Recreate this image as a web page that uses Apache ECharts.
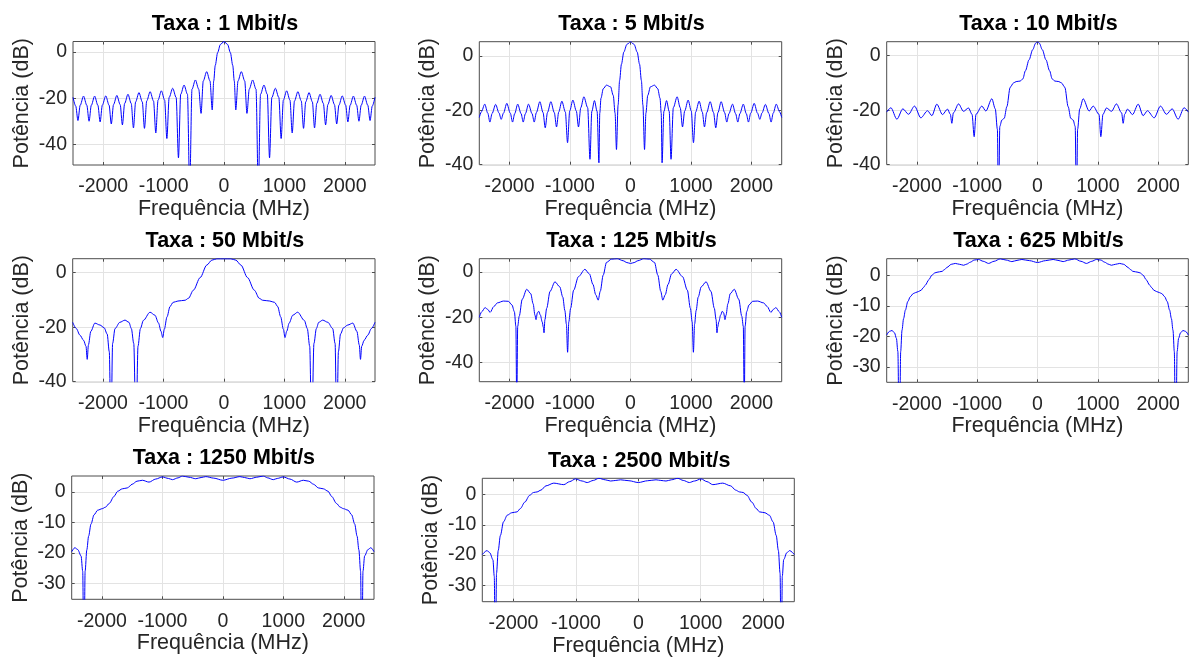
<!DOCTYPE html>
<html>
<head>
<meta charset="utf-8">
<title>Espectro de potência</title>
<script src="https://cdn.jsdelivr.net/npm/echarts@6/dist/echarts.min.js"></script>
<style>
  html, body { margin: 0; padding: 0; background: #ffffff; }
  #chart { width: 1192px; height: 661px; }
</style>
</head>
<body>
<div id="chart"></div>
<script>
// Bit rates shown in each panel title (Mbit/s)
const rates = ['1', '5', '10', '50', '125', '625', '1250', '2500'];

// Tick values
const freqTicks = [-2000, -1000, 0, 1000, 2000];
const powTicksCoarse = [-40, -20, 0];
const powTicksFine = [-30, -20, -10, 0];

// Spectrum of each rate: frequency (MHz) and power (dB)
const freq1 = [-2500, -2455, -2418, -2381, -2326, -2271, -2234, -2197, -2142, -2088, -2051, -2014, -1958, -1903, -1866, -1829, -1774, -1719, -1682, -1645, -1590, -1536, -1499, -1463, -1408, -1353, -1317, -1279, -1223, -1167, -1129, -1092, -1037, -983, -946, -908, -850, -792, -754, -717, -661, -605, -568, -530, -474, -418, -380, -343, -287, -232, -195, -170, -145, -105, -60, 0, 60, 105, 145, 170, 195, 232, 287, 343, 380, 418, 474, 530, 568, 605, 661, 717, 754, 792, 850, 908, 946, 983, 1037, 1092, 1129, 1167, 1223, 1279, 1317, 1353, 1408, 1463, 1499, 1536, 1590, 1645, 1682, 1719, 1774, 1829, 1866, 1903, 1958, 2014, 2051, 2088, 2142, 2197, 2234, 2271, 2326, 2381, 2418, 2455, 2500];
const pow1 = [-19.6, -23.4, -29.7, -23.1, -19.1, -23.1, -30.0, -23.1, -19.1, -23.1, -30.3, -23.0, -19.0, -23.0, -31.2, -22.8, -18.8, -22.8, -31.6, -22.3, -18.3, -22.3, -32.9, -21.6, -17.6, -21.6, -33.1, -21.2, -17.2, -21.2, -35.1, -20.8, -16.8, -20.8, -37.5, -19.7, -15.7, -19.7, -45.9, -18.3, -14.3, -18.3, -60, -16.1, -12.1, -16.1, -26.6, -12.5, -8.5, -12.5, -25.1, -12.5, -5.8, -0.2, 3.3, 4.6, 3.3, -0.2, -5.8, -12.5, -25.1, -12.5, -8.5, -12.5, -26.6, -16.1, -12.1, -16.1, -60, -18.3, -14.3, -18.3, -45.9, -19.7, -15.7, -19.7, -37.5, -20.8, -16.8, -20.8, -35.1, -21.2, -17.2, -21.2, -33.1, -21.6, -17.6, -21.6, -32.9, -22.3, -18.3, -22.3, -31.6, -22.8, -18.8, -22.8, -31.2, -23.0, -19.0, -23.0, -30.3, -23.1, -19.1, -23.1, -30.0, -23.1, -19.1, -23.1, -29.7, -23.4, -19.6];

const freq5 = [-2500, -2465, -2410, -2360, -2325, -2288, -2230, -2175, -2138, -2100, -2045, -1988, -1950, -1915, -1865, -1809, -1774, -1738, -1686, -1628, -1592, -1556, -1499, -1446, -1410, -1373, -1317, -1260, -1223, -1187, -1135, -1077, -1041, -1005, -953, -896, -860, -822, -771, -708, -670, -640, -596, -552, -522, -508, -488, -450, -397, -330, -285, -255, -232, -205, -180, -150, -110, -60, 0, 60, 110, 150, 180, 205, 232, 255, 285, 330, 397, 450, 488, 508, 522, 552, 596, 640, 670, 708, 771, 822, 860, 896, 953, 1005, 1041, 1077, 1135, 1187, 1223, 1260, 1317, 1373, 1410, 1446, 1499, 1556, 1592, 1628, 1686, 1738, 1774, 1809, 1865, 1915, 1950, 1988, 2045, 2100, 2138, 2175, 2230, 2288, 2325, 2360, 2410, 2465, 2500];
const pow5 = [-22.6, -20.5, -17.7, -21.0, -24.3, -21.1, -17.8, -20.9, -23.3, -21.0, -17.4, -21.0, -24.3, -21.2, -17.7, -21.2, -24.3, -21.2, -17.7, -21.2, -24.3, -20.8, -16.8, -20.8, -26.4, -20.8, -16.8, -20.8, -26.1, -20.6, -16.6, -20.6, -31.9, -20.2, -16.2, -20.2, -26.1, -19.0, -15.0, -19.0, -38.0, -20.4, -16.4, -20.4, -39.3, -21.0, -15.5, -12.0, -10.7, -11.3, -14.5, -21.0, -34.4, -18.0, -9.0, -3.0, 1.5, 4.3, 5.3, 4.3, 1.5, -3.0, -9.0, -18.0, -34.4, -21.0, -14.5, -11.3, -10.7, -12.0, -15.5, -21.0, -39.3, -20.4, -16.4, -20.4, -38.0, -19.0, -15.0, -19.0, -26.1, -20.2, -16.2, -20.2, -31.9, -20.6, -16.6, -20.6, -26.1, -20.8, -16.8, -20.8, -26.4, -20.8, -16.8, -20.8, -24.3, -21.2, -17.7, -21.2, -24.3, -21.2, -17.7, -21.2, -24.3, -21.0, -17.4, -21.0, -23.3, -20.9, -17.8, -21.1, -24.3, -21.0, -17.7, -20.5, -22.6];

const freq10 = [-2500, -2431, -2331, -2232, -2138, -2039, -1934, -1823, -1751, -1669, -1575, -1492, -1445, -1420, -1395, -1309, -1227, -1144, -1085, -1050, -1020, -923, -856, -757, -700, -665, -646, -625, -591, -552, -508, -453, -398, -354, -287, -243, -200, -140, -80, -30, 0, 30, 80, 140, 200, 243, 287, 354, 398, 453, 508, 552, 591, 625, 646, 665, 700, 757, 856, 923, 1020, 1050, 1085, 1144, 1227, 1309, 1395, 1420, 1445, 1492, 1575, 1669, 1751, 1823, 1934, 2039, 2138, 2232, 2331, 2431, 2500];
const pow10 = [-20.7, -19.1, -23.3, -19.5, -21.5, -18.5, -22.8, -20.2, -22.0, -17.8, -21.6, -19.6, -21.5, -24.8, -21.0, -17.7, -20.4, -19.2, -21.5, -29.7, -21.5, -18.5, -20.3, -15.8, -19.5, -27.0, -60, -26.0, -23.6, -23.0, -18.7, -11.6, -10.0, -9.5, -9.3, -8.5, -5.5, -1.5, 2.2, 4.6, 5.1, 4.6, 2.2, -1.5, -5.5, -8.5, -9.3, -9.5, -10.0, -11.6, -18.7, -23.0, -23.6, -26.0, -60, -27.0, -19.5, -15.8, -20.3, -18.5, -21.5, -29.7, -21.5, -19.2, -20.4, -17.7, -21.0, -24.8, -21.5, -19.6, -21.6, -17.8, -22.0, -20.2, -22.8, -18.5, -21.5, -19.5, -23.3, -19.1, -20.7];

const freq50 = [-2500, -2440, -2381, -2320, -2280, -2260, -2240, -2200, -2133, -2050, -1980, -1930, -1895, -1867, -1840, -1800, -1720, -1635, -1570, -1530, -1490, -1453, -1420, -1380, -1331, -1221, -1140, -1080, -1040, -1011, -985, -940, -890, -840, -760, -641, -586, -503, -392, -282, -199, -116, 0, 116, 199, 282, 392, 503, 586, 641, 760, 840, 890, 940, 985, 1011, 1040, 1080, 1140, 1221, 1331, 1380, 1420, 1453, 1490, 1530, 1570, 1635, 1720, 1800, 1840, 1867, 1895, 1930, 1980, 2050, 2133, 2200, 2240, 2260, 2280, 2320, 2381, 2440, 2500];
const pow50 = [-18.2, -20.5, -22.9, -24.8, -27.0, -31.8, -26.5, -21.5, -18.5, -19.2, -20.2, -22.5, -29.0, -60, -26.0, -20.5, -18.2, -17.4, -18.2, -20.5, -26.0, -60, -27.0, -20.5, -17.5, -14.5, -15.6, -18.5, -21.5, -23.8, -20.8, -16.2, -12.4, -10.9, -10.4, -10.1, -9.4, -6.4, -1.8, 2.8, 4.6, 5.1, 5.1, 5.1, 4.6, 2.8, -1.8, -6.4, -9.4, -10.1, -10.4, -10.9, -12.4, -16.2, -20.8, -23.8, -21.5, -18.5, -15.6, -14.5, -17.5, -20.5, -27.0, -60, -26.0, -20.5, -18.2, -17.4, -18.2, -20.5, -26.0, -60, -29.0, -22.5, -20.2, -19.2, -18.5, -21.5, -26.5, -31.8, -27.0, -24.8, -22.9, -20.5, -18.2];

const freq125 = [-2500, -2460, -2404, -2360, -2321, -2260, -2200, -2100, -2020, -1960, -1920, -1895, -1881, -1865, -1840, -1790, -1716, -1650, -1610, -1580, -1562, -1540, -1518, -1490, -1460, -1440, -1430, -1415, -1386, -1330, -1249, -1170, -1120, -1085, -1060, -1040, -1020, -990, -940, -860, -754, -680, -620, -575, -534, -500, -451, -396, -314, -220, -121, -60, 0, 60, 121, 220, 314, 396, 451, 500, 534, 575, 620, 680, 754, 860, 940, 990, 1020, 1040, 1060, 1085, 1120, 1170, 1249, 1330, 1386, 1415, 1430, 1440, 1460, 1490, 1518, 1540, 1562, 1580, 1610, 1650, 1716, 1790, 1840, 1865, 1881, 1895, 1920, 1960, 2020, 2100, 2200, 2260, 2321, 2360, 2404, 2460, 2500];
const pow125 = [-20.0, -17.5, -15.7, -16.5, -17.8, -15.2, -13.6, -12.8, -12.9, -14.5, -17.5, -24.0, -60, -24.0, -19.5, -12.0, -7.6, -9.5, -14.0, -19.0, -21.0, -18.0, -17.3, -19.0, -22.0, -24.5, -26.8, -21.0, -16.0, -8.5, -4.3, -6.5, -11.0, -17.0, -23.0, -35.4, -22.0, -16.0, -8.0, -2.0, 1.2, -0.8, -5.5, -10.0, -12.4, -8.5, -1.3, 4.3, 5.7, 5.9, 5.0, 4.2, 3.8, 4.2, 5.0, 5.9, 5.7, 4.3, -1.3, -8.5, -12.4, -10.0, -5.5, -0.8, 1.2, -2.0, -8.0, -16.0, -22.0, -35.4, -23.0, -17.0, -11.0, -6.5, -4.3, -8.5, -16.0, -21.0, -26.8, -24.5, -22.0, -19.0, -17.3, -18.0, -21.0, -19.0, -14.0, -9.5, -7.6, -12.0, -19.5, -24.0, -60, -24.0, -17.5, -14.5, -12.9, -12.8, -13.6, -15.2, -17.8, -16.5, -15.7, -17.5, -20.0];

const freq625 = [-2500, -2455, -2411, -2370, -2339, -2315, -2290, -2268, -2246, -2220, -2190, -2150, -2108, -2060, -2025, -1970, -1931, -1890, -1859, -1800, -1749, -1700, -1666, -1583, -1540, -1501, -1430, -1363, -1290, -1225, -1170, -1114, -1050, -977, -900, -811, -720, -618, -520, -425, -340, -259, -130, 0, 130, 259, 340, 425, 520, 618, 720, 811, 900, 977, 1050, 1114, 1170, 1225, 1290, 1363, 1430, 1501, 1540, 1583, 1666, 1700, 1749, 1800, 1859, 1890, 1931, 1970, 2025, 2060, 2108, 2150, 2190, 2220, 2246, 2268, 2290, 2315, 2339, 2370, 2411, 2455, 2500];
const pow625 = [-19.6, -18.4, -18.1, -18.9, -20.7, -25.0, -60, -25.0, -18.0, -14.2, -11.4, -8.6, -7.0, -6.0, -5.7, -5.3, -4.9, -4.0, -3.2, -1.4, 0.1, 0.8, 1.0, 1.3, 1.9, 2.6, 3.6, 3.9, 3.6, 3.3, 3.7, 4.3, 5.0, 5.2, 4.6, 3.9, 4.6, 5.4, 5.0, 4.5, 4.9, 5.2, 4.8, 4.2, 4.8, 5.2, 4.9, 4.5, 5.0, 5.4, 4.6, 3.9, 4.6, 5.2, 5.0, 4.3, 3.7, 3.3, 3.6, 3.9, 3.6, 2.6, 1.9, 1.3, 1.0, 0.8, 0.1, -1.4, -3.2, -4.0, -4.9, -5.3, -5.7, -6.0, -7.0, -8.6, -11.4, -14.2, -18.0, -25.0, -60, -25.0, -20.7, -18.9, -18.1, -18.4, -19.6];

const freq1250 = [-2500, -2448, -2400, -2345, -2318, -2298, -2278, -2250, -2220, -2180, -2130, -2070, -1994, -1940, -1880, -1800, -1740, -1663, -1580, -1500, -1420, -1331, -1221, -1110, -1000, -900, -834, -740, -669, -560, -448, -360, -282, -150, 0, 150, 282, 360, 448, 560, 669, 740, 834, 900, 1000, 1110, 1221, 1331, 1420, 1500, 1580, 1663, 1740, 1800, 1880, 1940, 1994, 2070, 2130, 2180, 2220, 2250, 2278, 2298, 2318, 2345, 2400, 2448, 2500];
const pow1250 = [-19.6, -18.3, -18.9, -21.0, -26.0, -60, -26.0, -19.0, -14.5, -10.5, -7.5, -6.0, -5.5, -5.0, -3.8, -1.5, 0.2, 1.0, 1.3, 2.5, 3.5, 3.8, 3.2, 4.2, 4.9, 4.4, 4.0, 4.6, 5.2, 4.8, 4.3, 4.7, 5.0, 4.5, 3.8, 4.5, 5.0, 4.7, 4.3, 4.8, 5.2, 4.6, 4.0, 4.4, 4.9, 4.2, 3.2, 3.8, 3.5, 2.5, 1.3, 1.0, 0.2, -1.5, -3.8, -5.0, -5.5, -6.0, -7.5, -10.5, -14.5, -19.0, -26.0, -60, -26.0, -21.0, -18.9, -18.3, -19.6];

const freq2500 = [-2500, -2425, -2380, -2330, -2308, -2291, -2272, -2245, -2210, -2160, -2100, -2030, -1943, -1890, -1820, -1740, -1680, -1622, -1560, -1480, -1354, -1194, -1100, -1006, -900, -819, -720, -632, -530, -444, -360, -284, -150, 0, 150, 284, 360, 444, 530, 632, 720, 819, 900, 1006, 1100, 1194, 1354, 1480, 1560, 1622, 1680, 1740, 1820, 1890, 1943, 2030, 2100, 2160, 2210, 2245, 2272, 2291, 2308, 2330, 2380, 2425, 2500];
const pow2500 = [-19.8, -18.5, -19.2, -21.5, -27.0, -60, -26.0, -18.5, -13.5, -9.0, -6.8, -6.0, -5.7, -4.6, -2.5, -0.2, 0.7, 0.9, 1.5, 2.9, 3.8, 3.3, 4.3, 5.2, 4.5, 4.0, 4.7, 5.4, 4.9, 4.5, 4.7, 4.9, 4.6, 4.0, 4.6, 4.9, 4.7, 4.5, 4.9, 5.4, 4.7, 4.0, 4.5, 5.2, 4.3, 3.3, 3.8, 2.9, 1.5, 0.9, 0.7, -0.2, -2.5, -4.6, -5.7, -6.0, -6.8, -9.0, -13.5, -18.5, -26.0, -60, -27.0, -21.5, -19.2, -18.5, -19.8];

const freqs = [freq1, freq5, freq10, freq50, freq125, freq625, freq1250, freq2500];
const pows = [pow1, pow5, pow10, pow50, pow125, pow625, pow1250, pow2500];

// Panel layout: [left, top, width, height] of each plot box, power axis limits and ticks
const panels = [
  { box: [73, 41.5, 302, 123.5], yMin: -49, yMax: 4.6, ticks: powTicksCoarse },
  { box: [479.3, 41.7, 302.4, 123], yMin: -40, yMax: 5.3, ticks: powTicksCoarse },
  { box: [886.7, 41.7, 301.6, 123], yMin: -40, yMax: 5.14, ticks: powTicksCoarse },
  { box: [72.7, 258.7, 302.3, 123], yMin: -40, yMax: 5.14, ticks: powTicksCoarse },
  { box: [479.3, 258.7, 302.4, 123], yMin: -48.4, yMax: 5.9, ticks: powTicksCoarse },
  { box: [886.7, 258.7, 301.6, 123.6], yMin: -35.1, yMax: 5.45, ticks: powTicksFine },
  { box: [71.7, 476, 302.3, 123.3], yMin: -35.2, yMax: 5.2, ticks: powTicksFine },
  { box: [482.3, 478.3, 312, 123.4], yMin: -35.4, yMax: 5.4, ticks: powTicksFine }
];

const FONT = "'Liberation Sans', Arial, Helvetica, sans-serif";
const AXIS_COLOR = '#4d4d4d';
const TEXT_COLOR = '#262626';
const GRID_COLOR = '#e3e3e3';
const plainNumber = v => String(v);

const grid = [], xAxis = [], yAxis = [], series = [], graphic = [];

panels.forEach((p, i) => {
  const [left, top, width, height] = p.box;
  grid.push({
    left, top, width, height,
    show: true, borderColor: AXIS_COLOR, borderWidth: 1,
    backgroundColor: 'transparent', containLabel: false
  });

  // bottom / left axes carry the labels and the grid lines
  xAxis.push({
    type: 'value', gridIndex: i, position: 'bottom',
    min: -2500, max: 2500,
    axisLine: { show: false, onZero: false },
    axisTick: { show: true, inside: true, length: 3, customValues: freqTicks, lineStyle: { color: AXIS_COLOR } },
    axisLabel: { customValues: freqTicks, formatter: plainNumber, margin: 12, fontSize: 19.5, color: TEXT_COLOR, fontFamily: FONT },
    splitLine: { show: true, lineStyle: { color: GRID_COLOR, width: 1 } },
    name: 'Frequência (MHz)', nameLocation: 'middle', nameGap: 32,
    nameTextStyle: { fontSize: 21.5, color: TEXT_COLOR, fontFamily: FONT }
  });
  yAxis.push({
    type: 'value', gridIndex: i, position: 'left',
    min: p.yMin, max: p.yMax,
    axisLine: { show: false, onZero: false },
    axisTick: { show: true, inside: true, length: 3, customValues: p.ticks, lineStyle: { color: AXIS_COLOR } },
    axisLabel: { customValues: p.ticks, formatter: plainNumber, margin: 6, fontSize: 19.5, color: TEXT_COLOR, fontFamily: FONT },
    splitLine: { show: true, lineStyle: { color: GRID_COLOR, width: 1 } },
    name: 'Potência (dB)', nameLocation: 'middle', nameGap: 40, nameRotate: 90,
    nameTextStyle: { fontSize: 21.5, color: TEXT_COLOR, fontFamily: FONT }
  });

  series.push({
    type: 'line', xAxisIndex: i, yAxisIndex: i,
    data: freqs[i].map((f, k) => [f, pows[i][k]]),
    symbol: 'none', showSymbol: false,
    smooth: 0.3, smoothMonotone: 'x',
    clip: true,
    lineStyle: { color: '#0000ff', width: 1 },
    animation: false
  });

  graphic.push({
    type: 'text',
    x: left + width / 2 + 1,
    y: top - 17.5,
    style: {
      text: 'Taxa : ' + rates[i] + ' Mbit/s',
      textAlign: 'center', textVerticalAlign: 'middle',
      fontSize: 21.5, fontWeight: 'bold', fontFamily: FONT, fill: '#000000'
    }
  });
});

// mirrored ticks on the top and right edges of every box
panels.forEach((p, i) => {
  xAxis.push({
    type: 'value', gridIndex: i, position: 'top', min: -2500, max: 2500,
    axisLine: { show: false, onZero: false },
    axisTick: { show: true, inside: true, length: 3, customValues: freqTicks, lineStyle: { color: AXIS_COLOR } },
    axisLabel: { show: false }, splitLine: { show: false }
  });
  yAxis.push({
    type: 'value', gridIndex: i, position: 'right', min: p.yMin, max: p.yMax,
    axisLine: { show: false, onZero: false },
    axisTick: { show: true, inside: true, length: 3, customValues: p.ticks, lineStyle: { color: AXIS_COLOR } },
    axisLabel: { show: false }, splitLine: { show: false }
  });
});

const chart = echarts.init(document.getElementById('chart'), null, { renderer: 'canvas' });
chart.setOption({
  animation: false,
  backgroundColor: '#ffffff',
  grid, xAxis, yAxis, series, graphic
});
</script>
</body>
</html>
